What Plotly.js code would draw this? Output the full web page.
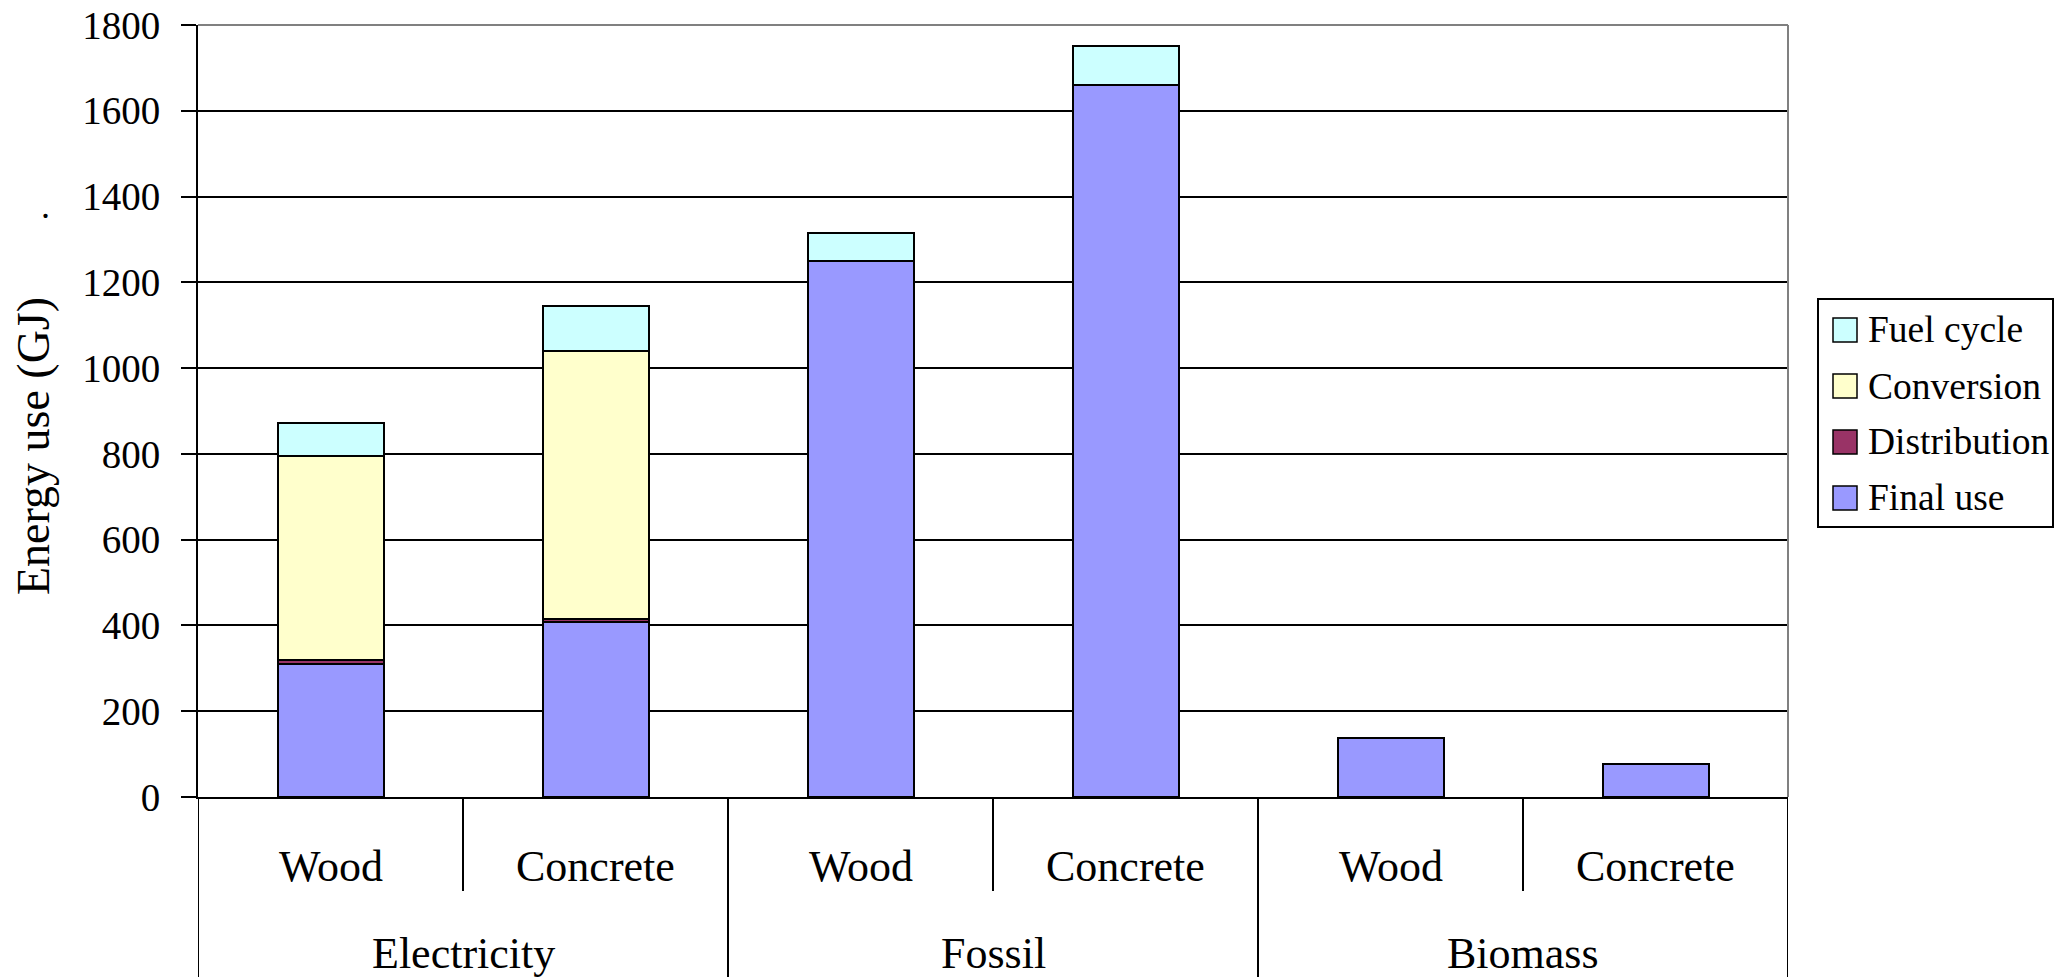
<!DOCTYPE html>
<html>
<head>
<meta charset="utf-8">
<script src="https://cdn.plot.ly/plotly-3.0.1.min.js"></script>
<style>body{margin:0;background:#fff;}</style>
</head>
<body>
<div id="chart"></div>
<script>
// ---- data ----
const groups = ['Electricity', 'Electricity', 'Fossil', 'Fossil', 'Biomass', 'Biomass'];
const materials = ['Wood', 'Concrete', 'Wood', 'Concrete', 'Wood', 'Concrete'];
const groupNames = ['Electricity', 'Fossil', 'Biomass'];
const finalUse = [311, 407, 1250, 1660, 137, 76];
const distribution = [9, 8, null, null, null, null];
const conversion = [474, 624, null, null, null, null];
const fuelCycle = [78, 106, 66, 90, null, null];
const seriesNames = ['Final use', 'Distribution', 'Conversion', 'Fuel cycle'];
const seriesColors = ['#9999FF', '#993366', '#FFFFCC', '#CCFFFF'];
const yTickVals = [0, 200, 400, 600, 800, 1000, 1200, 1400, 1600, 1800];
const yTitle = 'Energy use (GJ)';

// ---- layout geometry ----
const W = 2060, H = 977;
const M = {l: 198, r: 272, t: 25, b: 180};
const PW = W - M.l - M.r, PH = H - M.t - M.b;
const px2x = p => (p - M.l) / PW;
const px2y = p => (H - M.b - p) / PH;
const FONT = 'Liberation Serif';

const xKeys = groups.map((g, i) => g + ' ' + materials[i]);
const seriesValues = [finalUse, distribution, conversion, fuelCycle];

const traces = seriesValues.map((vals, k) => ({
  type: 'bar',
  name: seriesNames[k],
  x: xKeys,
  y: vals,
  marker: {color: seriesColors[k], line: {color: '#000', width: 2}},
  showlegend: false,
  hoverinfo: 'x+y+name'
}));

const shapes = [];
const annotations = [];

// plot frame (top & right, gray)
shapes.push({type: 'line', xref: 'paper', yref: 'paper', x0: 0, x1: 1, y0: 1, y1: 1, line: {color: '#808080', width: 2}, layer: 'above'});
shapes.push({type: 'line', xref: 'paper', yref: 'paper', x0: 1, x1: 1, y0: 0, y1: 1, line: {color: '#808080', width: 2}, layer: 'above'});

// category dividers
const shortBottom = px2y(891), longBottom = px2y(980);
for (let i = 0; i <= xKeys.length; i++) {
  const isGroupEdge = (i === 0 || i === xKeys.length || groups[i] !== groups[i - 1]);
  shapes.push({type: 'line', xref: 'x', yref: 'paper', x0: i - 0.5, x1: i - 0.5,
    y0: 0, y1: isGroupEdge ? longBottom : shortBottom, line: {color: '#000', width: 2}});
}

// sub-category labels
xKeys.forEach((k, i) => {
  annotations.push({xref: 'x', yref: 'paper', x: i, y: px2y(866), text: materials[i], showarrow: false,
    xanchor: 'center', yanchor: 'middle', font: {family: FONT, size: 44, color: '#000'}});
});
// group labels
groupNames.forEach(g => {
  const idx = groups.map((v, i) => v === g ? i : -1).filter(i => i >= 0);
  const mid = (idx[0] + idx[idx.length - 1]) / 2;
  annotations.push({xref: 'x', yref: 'paper', x: mid, y: px2y(953), text: g, showarrow: false,
    xanchor: 'center', yanchor: 'middle', font: {family: FONT, size: 44, color: '#000'}});
});

// y title
annotations.push({xref: 'paper', yref: 'paper', x: px2x(34), y: px2y(446), text: yTitle, textangle: -90,
  showarrow: false, xanchor: 'center', yanchor: 'middle', font: {family: FONT, size: 46, color: '#000'}});
annotations.push({xref: 'paper', yref: 'paper', x: px2x(45), y: px2y(206), text: '.', showarrow: false,
  xanchor: 'center', yanchor: 'middle', font: {family: FONT, size: 36, color: '#000'}});

// legend (manual box)
shapes.push({type: 'rect', xref: 'paper', yref: 'paper', x0: px2x(1818), x1: px2x(2053), y0: px2y(299), y1: px2y(527),
  line: {color: '#000', width: 2}, fillcolor: '#fff', layer: 'above'});
const legendOrder = [3, 2, 1, 0];
const itemY = [330, 386, 442, 498];
legendOrder.forEach((k, j) => {
  const cy = itemY[j];
  shapes.push({type: 'rect', xref: 'paper', yref: 'paper', x0: px2x(1833), x1: px2x(1857), y0: px2y(cy - 12), y1: px2y(cy + 12),
    line: {color: '#000', width: 1.5}, fillcolor: seriesColors[k], layer: 'above'});
  annotations.push({xref: 'paper', yref: 'paper', x: px2x(1866), y: px2y(cy), text: seriesNames[k], showarrow: false,
    xanchor: 'left', yanchor: 'middle', font: {family: FONT, size: 37.5, color: '#000'}});
});

const layout = {
  width: W, height: H,
  margin: M,
  paper_bgcolor: '#fff', plot_bgcolor: '#fff',
  barmode: 'stack', bargap: 0.6,
  showlegend: false,
  font: {family: FONT, color: '#000'},
  xaxis: {type: 'category', categoryorder: 'array', categoryarray: xKeys, range: [-0.5, xKeys.length - 0.5],
    showticklabels: false, ticks: '', showgrid: false, zeroline: false,
    showline: true, linecolor: '#000', linewidth: 2},
  yaxis: {range: [0, 1800], tickvals: yTickVals, ticks: 'outside', ticklen: 15, tickwidth: 2, tickcolor: '#000',
    showline: true, linecolor: '#000', linewidth: 2, gridcolor: '#000', gridwidth: 1.6, zeroline: false,
    tickfont: {family: FONT, size: 39, color: '#000'}, ticklabelstandoff: 13},
  shapes: shapes,
  annotations: annotations
};

Plotly.newPlot('chart', traces, layout, {displayModeBar: false});
</script>
</body>
</html>
